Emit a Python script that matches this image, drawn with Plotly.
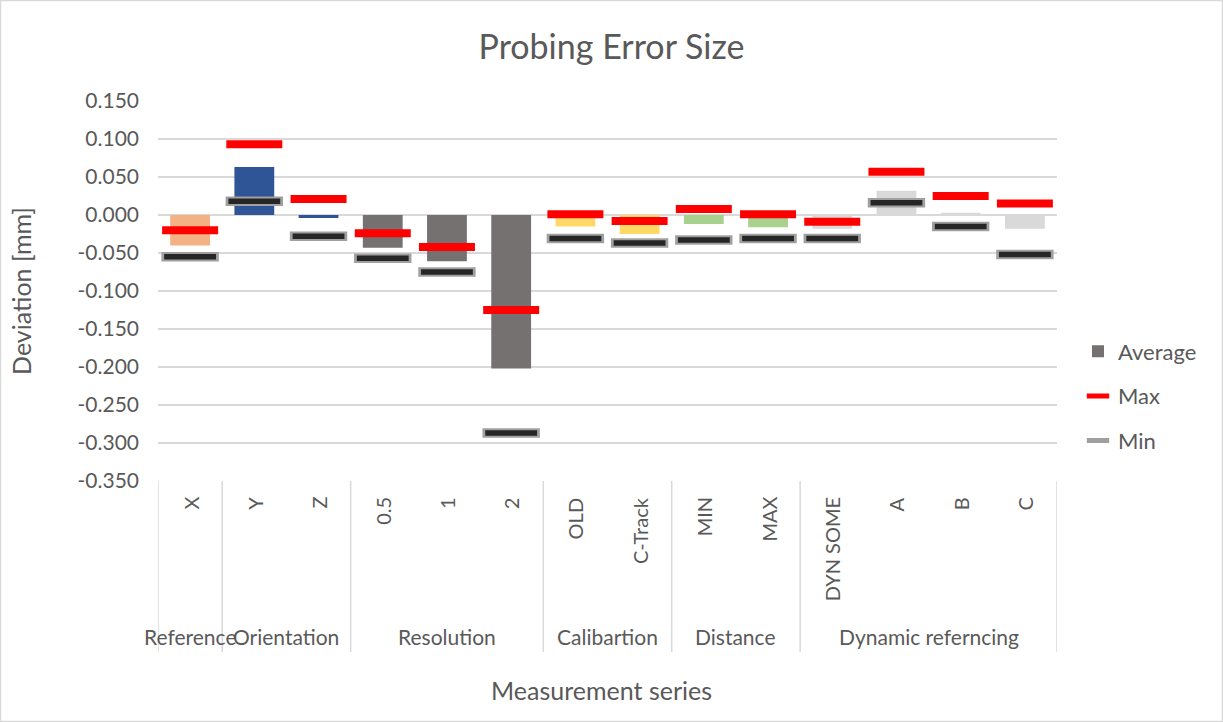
import plotly.graph_objects as go

# Measurement series and their groups
categories = ["X", "Y", "Z", "0.5", "1", "2", "OLD", "C-Track",
              "MIN", "MAX", "DYN SOME", "A", "B", "C"]
groups = ["Reference", "Orientation", "Orientation",
          "Resolution", "Resolution", "Resolution",
          "Calibartion", "Calibartion", "Distance", "Distance",
          "Dynamic referncing", "Dynamic referncing",
          "Dynamic referncing", "Dynamic referncing"]

# Probing error values [mm]
average = [-0.040, 0.063, -0.004, -0.043, -0.061, -0.202, -0.015, -0.025,
           -0.012, -0.016, -0.018, 0.032, 0.003, -0.018]
maximum = [-0.020, 0.093, 0.021, -0.024, -0.042, -0.125, 0.001, -0.008,
           0.008, 0.001, -0.009, 0.057, 0.025, 0.015]
minimum = [-0.055, 0.018, -0.028, -0.057, -0.075, -0.287, -0.031, -0.037,
           -0.033, -0.031, -0.031, 0.016, -0.015, -0.052]

tick_values = [0.15, 0.10, 0.05, 0.0, -0.05, -0.10, -0.15, -0.20, -0.25, -0.30, -0.35]
tick_labels = ["0.150", "0.100", "0.050", "0.000", "-0.050", "-0.100", "-0.150",
               "-0.200", "-0.250", "-0.300", "-0.350"]

group_colors = {
    "Reference": "#F4B183",
    "Orientation": "#2F5597",
    "Resolution": "#767171",
    "Calibartion": "#FFD966",
    "Distance": "#A9D18E",
    "Dynamic referncing": "#D9D9D9",
}

FONT = "Lato"
TEXT = "#595959"
GRID = "#D9D9D9"
BAR_W = 0.62

x_idx = list(range(len(categories)))

# ordered unique groups with their index spans
group_order = []
for g in groups:
    if g not in group_order:
        group_order.append(g)
spans = {g: [i for i, gg in enumerate(groups) if gg == g] for g in group_order}

fig = go.Figure()

for g in group_order:
    idx = spans[g]
    fig.add_trace(go.Bar(
        x=idx, y=[average[i] for i in idx], width=BAR_W,
        marker=dict(color=group_colors[g], line=dict(width=0)),
        name="Average", legendgroup="avg", legendrank=1,
        showlegend=(g == "Resolution"),
    ))

fig.add_trace(go.Scatter(
    x=x_idx, y=maximum, mode="markers", name="Max", legendgroup="max", legendrank=2,
    marker=dict(symbol="line-ew", size=40, color="#FF0000",
                line=dict(color="#FF0000", width=8)),
))
fig.add_trace(go.Scatter(
    x=x_idx, y=minimum, mode="markers", name="Min", legendgroup="min", legendrank=3,
    marker=dict(symbol="line-ew", size=41, color="#A0A0A0",
                line=dict(color="#A0A0A0", width=9.5)),
))
fig.add_trace(go.Scatter(
    x=x_idx, y=minimum, mode="markers", name="Min", legendgroup="min",
    showlegend=False,
    marker=dict(symbol="line-ew", size=37, color="#262626",
                line=dict(color="#262626", width=5.5)),
))

# category labels (rotated) and group labels below the plot
annotations = []
for i, c in enumerate(categories):
    annotations.append(dict(
        x=i, y=0, xref="x", yref="paper", text=c, showarrow=False,
        textangle=-90, xanchor="center", yanchor="top", yshift=-14,
        font=dict(family=FONT, size=20, color=TEXT),
    ))
for g in group_order:
    idx = spans[g]
    annotations.append(dict(
        x=(idx[0] + idx[-1]) / 2, y=0, xref="x", yref="paper", text=g,
        showarrow=False, xanchor="center", yanchor="middle", yshift=-155,
        font=dict(family=FONT, size=21, color=TEXT),
    ))
annotations.append(dict(
    x=0.5, y=0, xref="paper", yref="paper", text="Measurement series",
    showarrow=False, xanchor="center", yanchor="middle", yshift=-209, xshift=-6,
    font=dict(family=FONT, size=25, color=TEXT),
))

# group divider lines under the axis
shapes = []
bounds = [-0.5] + [spans[g][-1] + 0.5 for g in group_order]
for b in bounds:
    shapes.append(dict(type="line", xref="x", yref="paper", x0=b, x1=b,
                       y0=0, y1=-0.45, line=dict(color=GRID, width=1.5)))
# chart frame
shapes.append(dict(type="rect", xref="paper", yref="paper",
                   x0=-0.1752, x1=1.1841, y0=-0.6329, y1=1.2645,
                   line=dict(color=GRID, width=1.5)))

fig.update_layout(
    width=1223, height=722,
    margin=dict(l=158, r=166, t=101, b=241, autoexpand=False),
    paper_bgcolor="white", plot_bgcolor="white",
    barmode="overlay",
    title=dict(text="Probing Error Size", x=0.5, xref="container", xanchor="center",
               y=1 - 47 / 722, yref="container", yanchor="middle",
               font=dict(family=FONT, size=34, color=TEXT)),
    font=dict(family=FONT, size=20, color=TEXT),
    xaxis=dict(range=[-0.5, 13.5], showticklabels=False, showgrid=False,
               zeroline=False, showline=False, ticks=""),
    yaxis=dict(range=[-0.35, 0.15], tickvals=tick_values, ticktext=tick_labels,
               showgrid=True, gridcolor=GRID, gridwidth=1.5, zeroline=False,
               showline=False, ticks="", ticklabelstandoff=18,
               tickfont=dict(family=FONT, size=21, color=TEXT),
               title=dict(text="Deviation [mm]", standoff=38,
                          font=dict(family=FONT, size=25, color=TEXT))),
    legend=dict(x=1078 / 1223, xref="container", xanchor="left",
                y=(481 - 396) / 380, yanchor="middle", tracegroupgap=13,
                traceorder="grouped",
                font=dict(family=FONT, size=22, color=TEXT),
                bgcolor="rgba(0,0,0,0)"),
    annotations=annotations,
    shapes=shapes,
    showlegend=True,
)

fig.write_html("out.html")
